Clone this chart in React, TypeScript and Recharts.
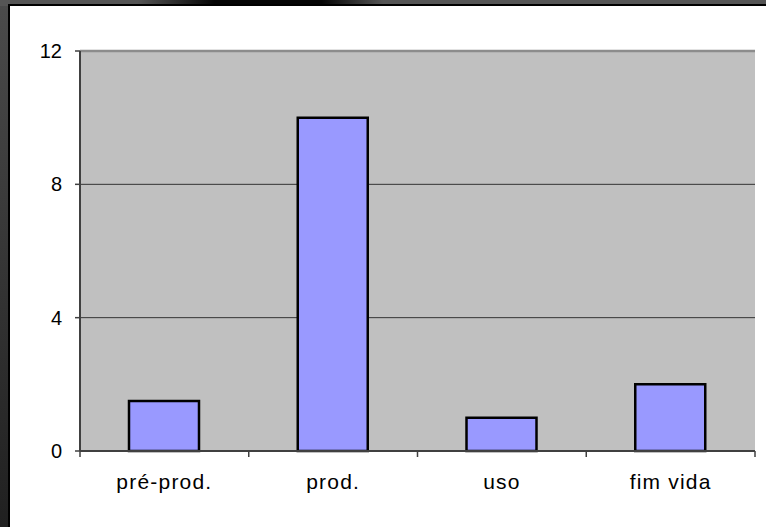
import { BarChart, Bar, XAxis, YAxis, CartesianGrid, ReferenceLine } from 'recharts'

const categories = ['pré-prod.', 'prod.', 'uso', 'fim vida']
const values = [1.5, 10, 1, 2]
const yTicks = [0, 4, 8, 12]

const data = categories.map((name, i) => ({ name, value: values[i] }))

const FONT = '"Liberation Sans", Arial, sans-serif'
const LABEL_GAP = 23

// category labels plus tick marks on the band edges (Excel style)
function CategoryTick(props: any) {
  const { x, y, payload, index, visibleTicksCount } = props
  const half = payload?.offset ?? 0
  const axisY = y - LABEL_GAP
  const isLast = index === visibleTicksCount - 1
  return (
    <g>
      <line x1={x - half} x2={x - half} y1={axisY} y2={axisY + 6} stroke="#404040" strokeWidth={1.5} />
      {isLast && (
        <line x1={x + half} x2={x + half} y1={axisY} y2={axisY + 6} stroke="#404040" strokeWidth={1.5} />
      )}
      <text
        x={x}
        y={y}
        dy="0.71em"
        textAnchor="middle"
        fill="#000"
        fontSize={21}
        fontFamily={FONT}
        letterSpacing={1.2}
      >
        {payload.value}
      </text>
    </g>
  )
}

export default function App() {
  return (
    <div
      style={{
        position: 'absolute',
        left: 0,
        top: 0,
        width: 766,
        height: 527,
        background: 'linear-gradient(to bottom, #4b4b4b, #202020)',
        overflow: 'hidden',
      }}
    >
      <div
        style={{
          position: 'absolute',
          left: 0,
          top: 0,
          width: 766,
          height: 6,
          background: 'linear-gradient(to right, #555 0%, #555 18%, #050505 28%, #050505 42%, #555 50%, #555 100%)',
        }}
      />
      <div
        style={{
          position: 'absolute',
          left: 8,
          top: 4,
          width: 756,
          height: 521,
          background: '#fff',
          borderLeft: '2px solid #000',
          borderTop: '2px solid #000',
        }}
      >
        <BarChart
          width={756}
          height={521}
          data={data}
          margin={{ top: 45, right: 11, left: 10, bottom: 16 }}
        >
          <CartesianGrid vertical={false} stroke="#333" fill="#C0C0C0" fillOpacity={1} />
          <XAxis
            dataKey="name"
            height={60}
            tickLine={false}
            tickSize={0}
            tickMargin={LABEL_GAP}
            axisLine={{ stroke: '#404040', strokeWidth: 2 }}
            tick={<CategoryTick />}
            interval={0}
          />
          <YAxis
            domain={[0, 12]}
            ticks={yTicks}
            width={60}
            tickSize={5}
            tickMargin={13}
            axisLine={{ stroke: '#404040', strokeWidth: 2 }}
            tickLine={{ stroke: '#404040', strokeWidth: 1.5 }}
            tick={{ fill: '#000', fontSize: 20, fontFamily: FONT }}
          />
          <YAxis
            yAxisId="r"
            orientation="right"
            domain={[0, 12]}
            width={0}
            tick={false}
            tickLine={false}
            axisLine={{ stroke: '#8c8c8c', strokeWidth: 2.5 }}
          />
          <ReferenceLine y={12} stroke="#8c8c8c" strokeWidth={2.5} />
          <Bar
            dataKey="value"
            fill="#9999FF"
            stroke="#000"
            strokeWidth={2.5}
            barSize={70}
            isAnimationActive={false}
          />
        </BarChart>
      </div>
    </div>
  )
}
